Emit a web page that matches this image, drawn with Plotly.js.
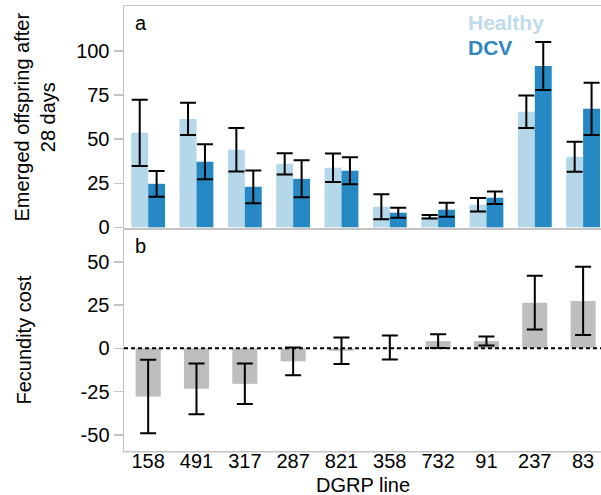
<!DOCTYPE html>
<html>
<head>
<meta charset="utf-8">
<script src="https://cdn.plot.ly/plotly-3.0.1.min.js"></script>
<style>
html, body { margin: 0; padding: 0; overflow: hidden; background: #fff; }
#chart { width: 601px; height: 495px; }
</style>
</head>
<body>
<div id="chart"></div>
<script>
var lines = ['158', '491', '317', '287', '821', '358', '732', '91', '237', '83'];
var healthy = [53.6, 61.5, 44.0, 36.0, 33.8, 11.7, 6.0, 12.8, 65.5, 40.0];
var healthyErr = [18.8, 9.2, 12.3, 6.0, 8.1, 7.1, 1.0, 3.8, 9.2, 8.5];
var dcv = [24.7, 37.2, 23.0, 27.5, 32.1, 8.3, 10.0, 16.8, 91.5, 67.2];
var dcvErr = [7.3, 9.9, 9.3, 10.5, 7.7, 2.8, 4.0, 3.5, 13.6, 14.8];
var cost = [-27.8, -23.4, -20.5, -7.5, -1.4, 0.5, 4.2, 4.2, 26.4, 27.4];
var costErr = [21.2, 14.7, 11.7, 8.0, 7.7, 7.0, 4.0, 2.6, 15.5, 19.7];
var topTicks = [0, 25, 50, 75, 100];
var topTickText = ['0', '25', '50', '75', '100'];
var bottomTicks = [-50, -25, 0, 25, 50];
var bottomTickText = ['-50', '-25', '0', '25', '50'];

var FONT = 'Liberation Sans, Arial, Helvetica, sans-serif';
var cHealthy = '#b4d7e9';
var cDCV = '#2689c3';
var cGrey = '#bebebe';
var axisGrey = '#c4c4c4';

var errStyle = function (arr) {
  return { type: 'data', array: arr, visible: true, color: '#000', thickness: 2, width: 8 };
};

var traces = [
  { type: 'bar', name: 'Healthy', x: lines, y: healthy, xaxis: 'x', yaxis: 'y',
    marker: { color: cHealthy }, width: 0.35, offset: -0.35, error_y: errStyle(healthyErr) },
  { type: 'bar', name: 'DCV', x: lines, y: dcv, xaxis: 'x', yaxis: 'y',
    marker: { color: cDCV }, width: 0.35, offset: 0, error_y: errStyle(dcvErr) },
  { type: 'bar', name: 'Fecundity cost', x: lines, y: cost, xaxis: 'x2', yaxis: 'y2',
    marker: { color: cGrey }, width: 0.52, offset: -0.26, error_y: errStyle(costErr) }
];

var tickFont = { family: FONT, size: 20, color: '#000' };

var layout = {
  width: 601, height: 495,
  margin: { l: 124, r: 0, t: 6, b: 44 },
  paper_bgcolor: '#fff', plot_bgcolor: '#fff',
  barmode: 'overlay',
  showlegend: false,
  hovermode: false,
  font: { family: FONT, size: 20, color: '#000' },
  xaxis: {
    domain: [0, 1], anchor: 'y', type: 'category', range: [-0.5, 9.37],
    showticklabels: false, ticks: '', showgrid: false, zeroline: false,
    showline: true, mirror: true, linecolor: axisGrey, linewidth: 1.5
  },
  yaxis: {
    domain: [0.501, 1], anchor: 'x', range: [-0.4, 125.5],
    tickmode: 'array', tickvals: topTicks, ticktext: topTickText,
    ticks: 'outside', ticklen: 9, tickwidth: 1.5, tickcolor: axisGrey,
    tickfont: tickFont, showgrid: false, zeroline: false,
    showline: true, linecolor: axisGrey, linewidth: 1.5
  },
  xaxis2: {
    domain: [0, 1], anchor: 'free', position: 0.009, type: 'category', range: [-0.5, 9.37],
    ticks: '', tickfont: tickFont, showgrid: false, zeroline: false,
    showline: false
  },
  yaxis2: {
    domain: [0, 0.499], anchor: 'x2', range: [-59.3, 69],
    tickmode: 'array', tickvals: bottomTicks, ticktext: bottomTickText,
    ticks: 'outside', ticklen: 9, tickwidth: 1.5, tickcolor: axisGrey,
    tickfont: tickFont, showgrid: false, zeroline: false,
    showline: true, linecolor: axisGrey, linewidth: 1.5
  },
  shapes: [
    { type: 'line', xref: 'paper', yref: 'y2', x0: 0, x1: 1, y0: 0, y1: 0,
      line: { color: '#000', width: 2, dash: '4px,3px' }, layer: 'above' },
    { type: 'line', xref: 'paper', yref: 'paper', x0: -0.002, x1: 1, y0: -0.0017, y1: -0.0017,
      line: { color: axisGrey, width: 1.5 }, layer: 'above' }
  ],
  annotations: [
    { text: 'DGRP line', xref: 'paper', yref: 'paper', x: 0.5, y: -0.0472,
      xanchor: 'center', yanchor: 'top', showarrow: false,
      font: { family: FONT, size: 20, color: '#000' } },
    { text: 'Emerged offspring after<br>28 days', xref: 'paper', yref: 'paper',
      x: -0.186, y: 0.75, xanchor: 'center', yanchor: 'middle', textangle: -90, showarrow: false,
      font: { family: FONT, size: 20, color: '#000' } },
    { text: 'Fecundity cost', xref: 'paper', yref: 'paper',
      x: -0.21, y: 0.25, xanchor: 'center', yanchor: 'middle', textangle: -90, showarrow: false,
      font: { family: FONT, size: 20, color: '#000' } },
    { text: 'a', xref: 'paper', yref: 'paper', x: 0.019, y: 0.99, xanchor: 'left', yanchor: 'top',
      showarrow: false, font: { family: FONT, size: 20, color: '#000' } },
    { text: 'b', xref: 'paper', yref: 'paper', x: 0.019, y: 0.49, xanchor: 'left', yanchor: 'top',
      showarrow: false, font: { family: FONT, size: 20, color: '#000' } },
    { text: '<b>' + traces[0].name + '</b>', xref: 'paper', yref: 'paper', x: 0.716, y: 0.993,
      xanchor: 'left', yanchor: 'top', showarrow: false,
      font: { family: FONT, size: 21, color: '#c0dbee' } },
    { text: '<b>' + traces[1].name + '</b>', xref: 'paper', yref: 'paper', x: 0.716, y: 0.937,
      xanchor: 'left', yanchor: 'top', showarrow: false,
      font: { family: FONT, size: 21, color: '#2f86c2' } }
  ]
};

Plotly.newPlot('chart', traces, layout, { displayModeBar: false, staticPlot: true });
</script>
</body>
</html>
